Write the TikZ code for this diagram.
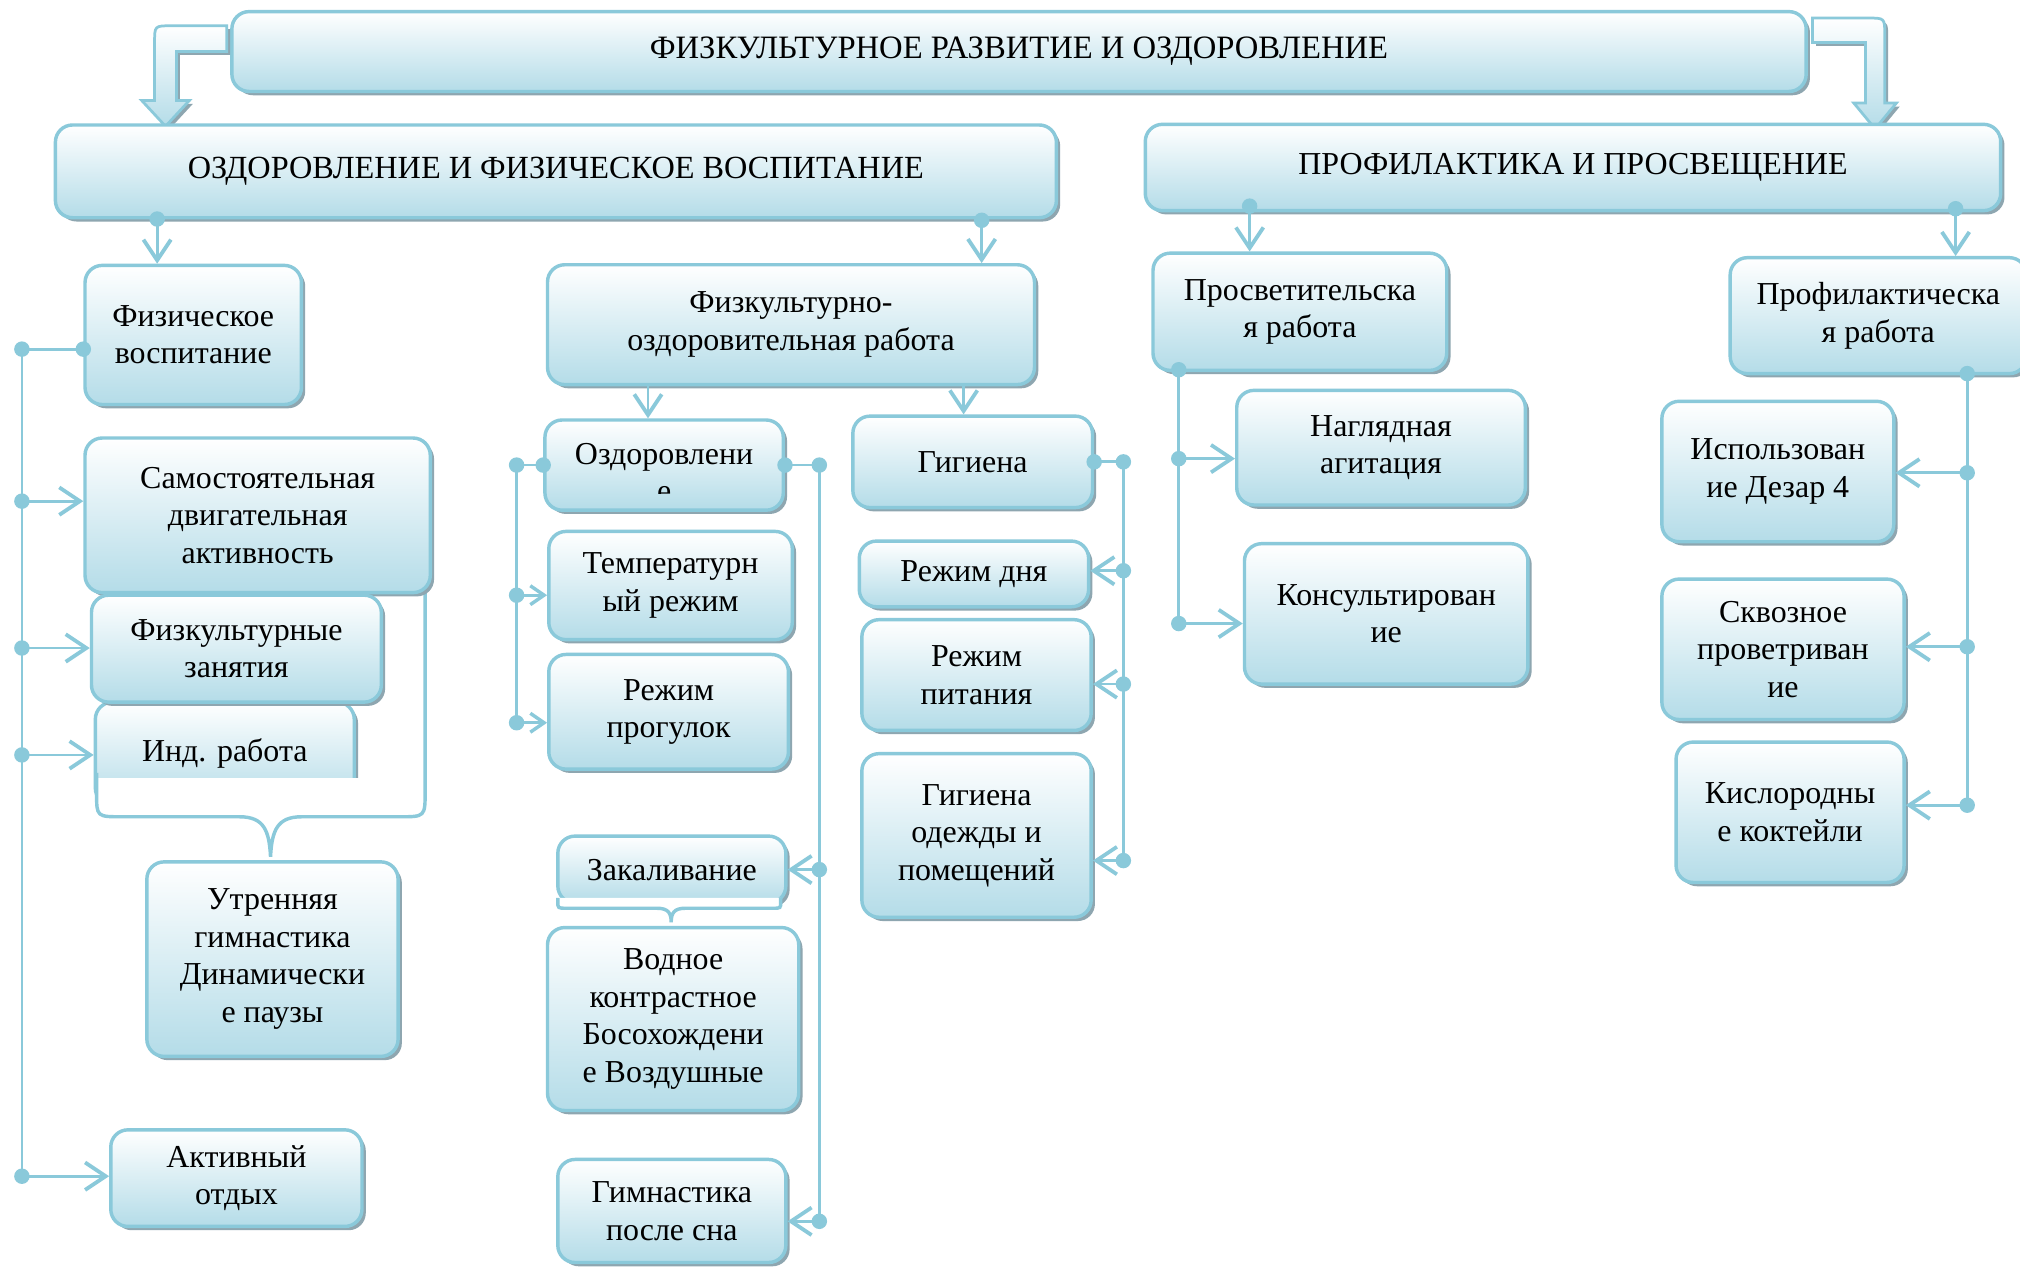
\documentclass[tikz,border=0pt]{standalone}
\usepackage{fontspec}
\setmainfont{Liberation Serif}
\usetikzlibrary{arrows.meta}
\usetikzlibrary{shadows}

\definecolor{linec}{RGB}{138,201,218}
\definecolor{boxblue}{RGB}{180,220,232}
\definecolor{shadowc}{RGB}{142,166,176}

\tikzset{wh/.style 2 args = {minimum width=#1*0.375pt, minimum height=#2*0.375pt}}

\begin{document}
\begin{tikzpicture}
	[x=0.375pt, y=-0.375pt,
	txt/.style = {align=center, inner sep=0pt, font=\fontsize{9.3}{10.9}\selectfont},
	box/.style = {txt, draw=linec, line width=1pt, rounded corners=5pt, top color=white, bottom color=boxblue,
		drop shadow={shadow xshift=1.1pt, shadow yshift=-1.1pt, fill=shadowc, opacity=1}},
	bus/.style = {draw=linec, line width=0.8pt},
	arr/.style = {bus, -{Straight Barb[length=6pt, width=8pt, line width=1.1pt]}},
	sarr/.style = {bus, -{Straight Barb[length=4pt, width=5.5pt, line width=1pt]}},
	dot/.style = {fill=linec},
	bent/.style = {draw=linec, line width=0.8pt, top color=white, bottom color=boxblue,
		drop shadow={shadow xshift=1pt, shadow yshift=-1pt, fill=shadowc, opacity=1}},
	brace/.style = {draw=linec, line width=1pt}]
	\useasboundingbox (0,0) rectangle (1568,983);
	\fill[white] (0,0) rectangle (1568,983);
	% top level
	\node[box, wh={1222}{62}, font=\fontsize{9.5}{11}\selectfont] (top) at (791,40) {ФИЗКУЛЬТУРНОЕ РАЗВИТИЕ И ОЗДОРОВЛЕНИЕ};
	\draw[bent] (176,20) -- (133,20) .. controls (120,20) .. (120,33) -- (120,78) -- (110,78)
		-- (128.5,98) -- (147,78) -- (137,78) -- (137,40) -- (176,40) -- cycle;
	\draw[bent] (1407,14) -- (1450,14) .. controls (1463,14) .. (1463,27) -- (1463,80) -- (1472,80)
		-- (1455.5,100) -- (1439,80) -- (1448,80) -- (1448,33) -- (1407,33) -- cycle;
	\node[box, wh={777}{72}, font=\fontsize{9.4}{11}\selectfont] (ozd) at (431.5,133) {ОЗДОРОВЛЕНИЕ И ФИЗИЧЕСКОЕ ВОСПИТАНИЕ};
	\node[box, wh={664}{67}, font=\fontsize{9.3}{11}\selectfont] (prof) at (1221,130) {ПРОФИЛАКТИКА И ПРОСВЕЩЕНИЕ};
	% left column
	\node[box, wh={168}{108}] (fizv) at (150,260) {Физическое\\воспитание};
	\node[box, wh={201}{80}] (ind) at (174.5,585) {Инд. работа};
	\fill[white] (75,604) -- (75,616) .. controls (75,634) .. (95,634) -- (186,634)
		.. controls (205,634) and (209,645) .. (210,665) .. controls (211,645) and (215,634) .. (234,634)
		-- (310,634) .. controls (330,634) .. (330,614) -- (330,604) -- cycle;
	\draw[brace] (75,600) -- (75,616) .. controls (75,634) .. (95,634) -- (186,634)
		.. controls (205,634) and (209,645) .. (210,665) .. controls (211,645) and (215,634) .. (234,634)
		-- (310,634) .. controls (330,634) .. (330,614) -- (330,455);
	\node[box, wh={268}{120}] (samo) at (200,400) {Самостоятельная\\двигательная\\активность};
	\node[box, wh={225}{83}] (zan) at (183.5,503.5) {Физкультурные\\занятия};
	\node[box, wh={195}{151}] (utr) at (211.5,744.5) {Утренняя\\гимнастика\\Динамически\\е паузы};
	\node[box, wh={195}{75}] (otd) at (183.5,914.5) {Активный\\отдых};
	% middle columns
	\node[box, wh={378}{93}] (fow) at (614,252) {Физкультурно-\\оздоровительная работа};
	\node[box, wh={185}{70}] (ozdr) at (515.5,361) {};
	\begin{scope}
		\clip (423,326) rectangle (608,383);
		\node[txt] (ozdrt) at (515.5,367) {Оздоровлени\\е};
	\end{scope}
	\node[box, wh={189}{84}] (temp) at (520.5,454.5) {Температурн\\ый режим};
	\node[box, wh={186}{89}] (prog) at (519,552.5) {Режим\\прогулок};
	\node[box, wh={177}{52}] (zak) at (521.5,675) {Закаливание};
	\fill[white] (433,697) -- (433,700) .. controls (433,705) .. (440,705) -- (510,705)
		.. controls (519,705) and (521,709) .. (521,716) .. controls (521,709) and (523,705) .. (532,705)
		-- (600,705) .. controls (606,705) .. (606,700) -- (606,697) -- cycle;
	\draw[brace] (433,697) -- (433,700) .. controls (433,705) .. (440,705) -- (510,705)
		.. controls (519,705) and (521,709) .. (521,716) .. controls (521,709) and (523,705) .. (532,705)
		-- (600,705) .. controls (606,705) .. (606,700) -- (606,697);
	\node[box, wh={195}{142}] (vod) at (522.5,791) {Водное\\контрастное\\Босохождени\\е Воздушные};
	\node[box, wh={177}{80}] (gimn) at (521.5,940) {Гимнастика\\после сна};
	\node[box, wh={186}{71}] (gig) at (755,358.5) {Гигиена};
	\node[box, wh={178}{51}] (rdn) at (756,445.5) {Режим дня};
	\node[box, wh={178}{86}] (rpit) at (758,524) {Режим\\питания};
	\node[box, wh={178}{127}] (godezh) at (758,648.5) {Гигиена\\одежды и\\помещений};
	% right part
	\node[box, wh={228}{91}] (prosv) at (1009,242) {Просветительска\\я работа};
	\node[box, wh={224}{89}] (nagl) at (1072,347.5) {Наглядная\\агитация};
	\node[box, wh={220}{109}] (kons) at (1076,476.5) {Консультирован\\ие};
	\node[box, wh={230}{90}] (profr) at (1458,245) {Профилактическа\\я работа};
	\node[box, wh={180}{109}] (dezar) at (1380,366) {Использован\\ие Дезар 4};
	\node[box, wh={188}{109}] (skv) at (1384,504) {Сквозное\\проветриван\\ие};
	\node[box, wh={177}{109}] (kisl) at (1389.5,630.5) {Кислородны\\е коктейли};
	% down arrows
	\coordinate (c1) at (122,170);
	\coordinate (c2) at (762,171);
	\coordinate (c3) at (970,160);
	\coordinate (c4) at (1518,162);
	\coordinate (c5) at (503,298);
	\coordinate (c6) at (748,298);
	\draw[arr] (c1) -- (c1 |- fizv.north);
	\draw[arr] (c2) -- (c2 |- fow.north);
	\draw[arr] (c3) -- (c3 |- prosv.north);
	\draw[arr] (c4) -- (c4 |- profr.north);
	\draw[arr] (c5) -- (c5 |- ozdr.north);
	\draw[arr] (c6) -- (c6 |- gig.north);
	\foreach \p in {c1,c2,c3,c4}
		\fill[dot] (\p) circle[radius=6];
	% bus of fizv
	\coordinate (a0) at (17,271);
	\coordinate (a1) at (17,389);
	\coordinate (a2) at (17,503);
	\coordinate (a3) at (17,586);
	\coordinate (a4) at (17,913);
	\draw[bus] (fizv.west |- a0) -- (a0) -- (a4);
	\draw[arr] (a1) -- (a1 -| samo.west);
	\draw[arr] (a2) -- (a2 -| zan.west);
	\draw[arr] (a3) -- (a3 -| ind.west);
	\draw[arr] (a4) -- (a4 -| otd.west);
	\foreach \p in {a0,a1,a2,a3,a4}
		\fill[dot] (\p) circle[radius=6];
	\fill[dot] (fizv.west |- a0) circle[radius=6];
	% buses of ozdr
	\coordinate (b0) at (401,361);
	\coordinate (b1) at (401,462);
	\coordinate (b2) at (401,561);
	\draw[bus] (ozdr.west) -- (b0) -- (b2);
	\draw[sarr] (b1) -- (b1 -| temp.west);
	\draw[sarr] (b2) -- (b2 -| prog.west);
	\coordinate (b3) at (636,361);
	\coordinate (b4) at (636,675);
	\coordinate (b5) at (636,948);
	\draw[bus] (ozdr.east) -- (b3) -- (b5);
	\draw[arr] (b4) -- (b4 -| zak.east);
	\draw[arr] (b5) -- (b5 -| gimn.east);
	\foreach \p in {b0,b1,b2,b3,b4,b5}
		\fill[dot] (\p) circle[radius=6];
	\fill[dot] (ozdr.west) circle[radius=6];
	\fill[dot] (ozdr.east) circle[radius=6];
	% bus of gig
	\coordinate (g0) at (872,358.5);
	\coordinate (g1) at (872,443);
	\coordinate (g2) at (872,531);
	\coordinate (g3) at (872,668);
	\draw[bus] (gig.east) -- (g0) -- (g3);
	\draw[arr] (g1) -- (g1 -| rdn.east);
	\draw[arr] (g2) -- (g2 -| rpit.east);
	\draw[arr] (g3) -- (g3 -| godezh.east);
	\foreach \p in {g0,g1,g2,g3}
		\fill[dot] (\p) circle[radius=6];
	\fill[dot] (gig.east) circle[radius=6];
	% bus of prosv
	\coordinate (d0) at (915,287);
	\coordinate (d1) at (915,356);
	\coordinate (d2) at (915,484);
	\draw[bus] (d0) -- (d2);
	\draw[arr] (d1) -- (d1 -| nagl.west);
	\draw[arr] (d2) -- (d2 -| kons.west);
	\foreach \p in {d0,d1,d2}
		\fill[dot] (\p) circle[radius=6];
	% bus of profr
	\coordinate (e0) at (1527,290);
	\coordinate (e1) at (1527,367);
	\coordinate (e2) at (1527,502);
	\coordinate (e3) at (1527,625);
	\draw[bus] (e0) -- (e3);
	\draw[arr] (e1) -- (e1 -| dezar.east);
	\draw[arr] (e2) -- (e2 -| skv.east);
	\draw[arr] (e3) -- (e3 -| kisl.east);
	\foreach \p in {e0,e1,e2,e3}
		\fill[dot] (\p) circle[radius=6];
\end{tikzpicture}
\end{document}
